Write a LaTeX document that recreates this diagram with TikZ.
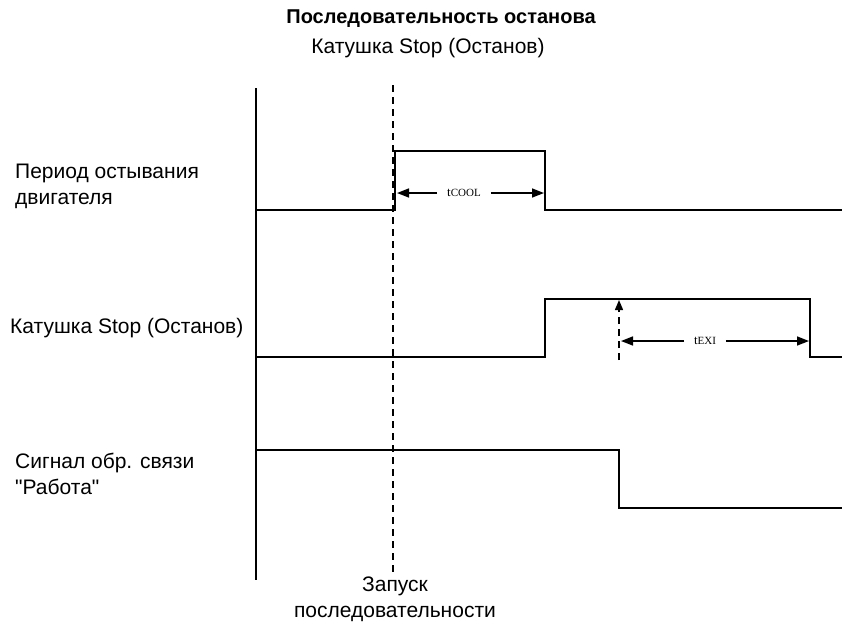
\documentclass[tikz,border=0pt]{standalone}
\usepackage{fontspec}
\setmainfont[Ligatures=TeXOff]{Liberation Sans}
\newfontfamily\serifsc{Liberation Serif}
\usetikzlibrary{arrows.meta}
\newcommand{\tsub}[1]{{\fontsize{13}{14}\selectfont t}{\fontsize{11}{12}\selectfont #1}}
\begin{document}
\begin{tikzpicture}[x=1pt,y=-1pt,
  sig/.style={line width=1.6pt},
  dim/.style={line width=1.5pt,-{Triangle[length=12pt,width=9pt]}},
  lbl/.style={font=\fontsize{21}{26}\selectfont,align=left,anchor=west,inner sep=0pt},
  tlbl/.style={font=\serifsc,inner sep=0pt,outer sep=10pt}]
\useasboundingbox (0,0) rectangle (842,622);
% title
\node[font=\bfseries\fontsize{20}{24}\selectfont,inner sep=0pt] (title) at (441,19) {Последовательность останова};
\node[font=\fontsize{21}{26}\selectfont,inner sep=0pt] (top) at (428,48) {Катушка Stop (Останов)};
% axis
\coordinate (ax1) at (256,88);
\coordinate (ax2) at (256,580);
\draw[sig] (ax1) -- (ax2);
% dashed start line
\coordinate (d1) at (393,85);
\coordinate (d2) at (393,572);
\draw[line width=1.3pt,dash pattern=on 7pt off 5pt] (d1) -- (d2);
% signal 1
\coordinate (s1a) at (256,210);
\coordinate (s1b) at (395,210);
\coordinate (s1c) at (395,151);
\coordinate (s1d) at (545,151);
\coordinate (s1e) at (545,210);
\coordinate (s1f) at (842,210);
\draw[sig] (s1a) -- (s1b) -- (s1c) -- (s1d) -- (s1e) -- (s1f);
\node[tlbl] (tcool) at (464,193) {\tsub{COOL}};
\coordinate (c1) at (397,193);
\coordinate (c2) at (544,193);
\draw[dim] (tcool) -- (c1);
\draw[dim] (tcool) -- (c2);
% signal 2
\coordinate (s2a) at (256,357);
\coordinate (s2b) at (545,357);
\coordinate (s2c) at (545,299);
\coordinate (s2d) at (810,299);
\coordinate (s2e) at (810,357);
\coordinate (s2f) at (842,357);
\draw[sig] (s2a) -- (s2b) -- (s2c) -- (s2d) -- (s2e) -- (s2f);
\coordinate (v1) at (619,360);
\coordinate (v2) at (619,300);
\draw[line width=1.4pt,dash pattern=on 7pt off 5pt,-{Triangle[length=10pt,width=8pt]}] (v1) -- (v2);
\node[tlbl] (text) at (705,341) {\tsub{EXI}};
\coordinate (e1) at (621,341);
\coordinate (e2) at (809,341);
\draw[dim] (text) -- (e1);
\draw[dim] (text) -- (e2);
% signal 3
\coordinate (s3a) at (256,450);
\coordinate (s3b) at (619,450);
\coordinate (s3c) at (619,508);
\coordinate (s3d) at (842,508);
\draw[sig] (s3a) -- (s3b) -- (s3c) -- (s3d);
% labels
\node[lbl] (l1) at (15,186) {Период остывания\\двигателя};
\node[lbl] (l2) at (10,328) {Катушка Stop (Останов)};
\node[lbl] (l3) at (15,474) {Сигнал обр. связи\\"Работа"};
\node[font=\fontsize{21}{26}\selectfont,align=center,inner sep=0pt] (start) at (395,599) {Запуск\\последовательности};
\end{tikzpicture}
\end{document}
